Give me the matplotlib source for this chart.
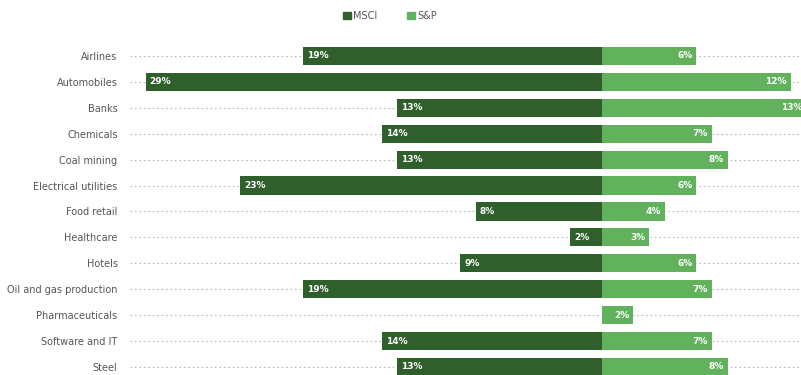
import matplotlib
matplotlib.use("Agg")
import matplotlib.pyplot as plt
from matplotlib.patches import Patch

# Share of companies flagged, by sector (%)
sectors = ["Airlines", "Automobiles", "Banks", "Chemicals", "Coal mining",
           "Electrical utilities", "Food retail", "Healthcare", "Hotels",
           "Oil and gas production", "Pharmaceuticals", "Software and IT", "Steel"]
msci = [19, 29, 13, 14, 13, 23, 8, 2, 9, 19, 0, 14, 13]
sp = [6, 12, 13, 7, 8, 6, 4, 3, 6, 7, 2, 7, 8]

MSCI_COLOR = "#2f5f2b"
SP_COLOR = "#62b25d"

W, H = 801, 375
fig = plt.figure(figsize=(W / 100, H / 100), dpi=100)
# axes spans pixel x 130..801, y 40..375
ax = fig.add_axes([130 / W, 0, (W - 130) / W, (H - 40) / H])

y = list(range(len(sectors)))

for yi in y:
    ax.axhline(yi, color="#b8b8b8", linestyle=(0, (1.5, 2.5)), linewidth=0.8, zorder=0)

ax.barh(y, [-v for v in msci], height=0.7, color=MSCI_COLOR, zorder=2)
ax.barh(y, sp, height=0.7, color=SP_COLOR, zorder=2)

for yi, v in zip(y, msci):
    if v:
        ax.text(-v + 0.25, yi, f"{v}%", color="white", fontsize=6.5,
                fontweight="bold", ha="left", va="center", zorder=3)
for yi, v in zip(y, sp):
    if v:
        ax.text(v - 0.25, yi, f"{v}%", color="white", fontsize=6.5,
                fontweight="bold", ha="right", va="center", zorder=3, clip_on=True)

ax.set_xlim(-30.0, 12.66)
ax.set_ylim(12.31, -0.617)
ax.set_yticks(y)
ax.set_yticklabels(sectors, fontsize=7, color="#555555")
ax.tick_params(axis="y", length=0, pad=9)
ax.set_xticks([])
for s in ax.spines.values():
    s.set_visible(False)

handles = [Patch(color=MSCI_COLOR, label="MSCI"), Patch(color=SP_COLOR, label="S&P")]
fig.legend(handles=handles, loc="center", bbox_to_anchor=(390 / W, 1 - 16 / H),
           ncol=2, frameon=False, fontsize=7, handlelength=0.8, handleheight=0.8,
           handletextpad=0.3, columnspacing=3.0, labelcolor="#555555")

fig.savefig("out.png", dpi=100)
